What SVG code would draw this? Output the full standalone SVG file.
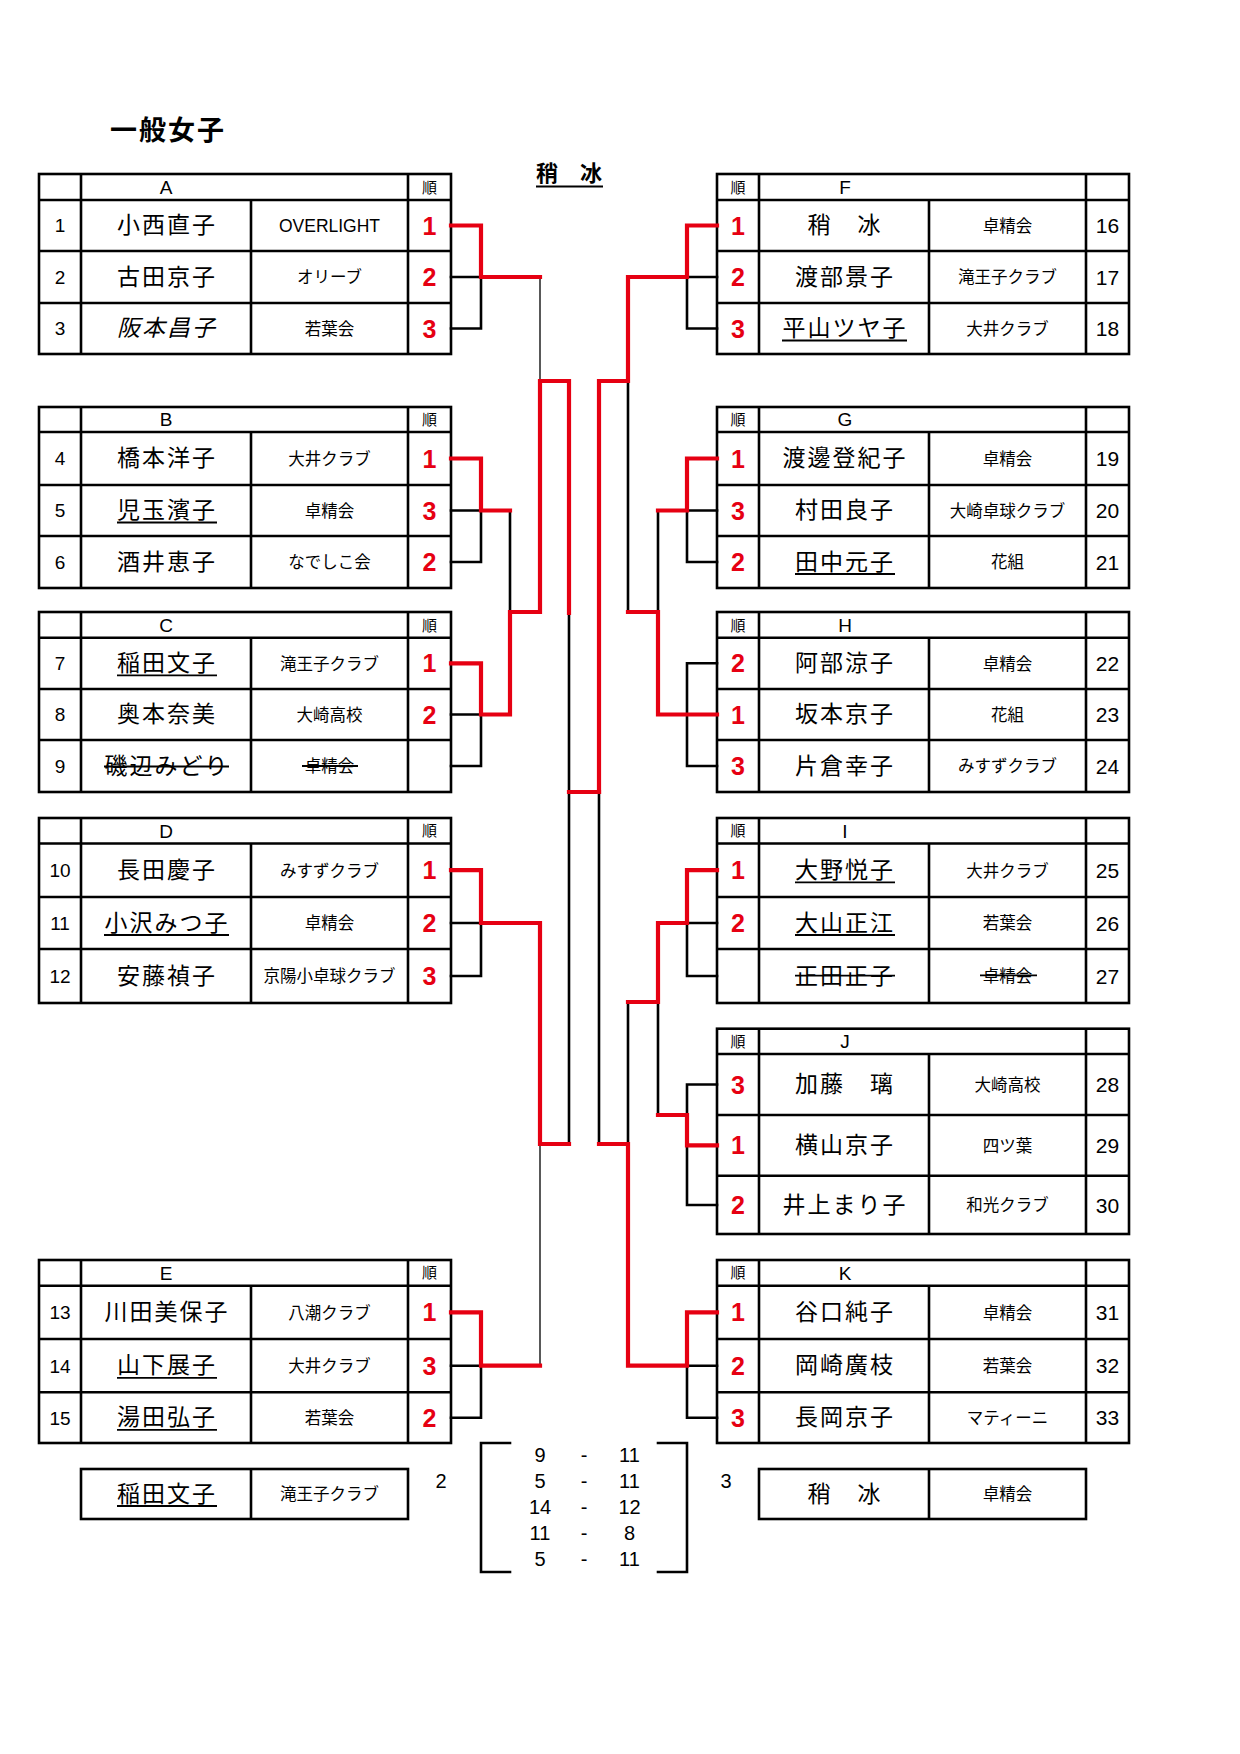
<svg xmlns="http://www.w3.org/2000/svg" width="1240" height="1754" viewBox="0 0 1240 1754">
<style>
.bg{fill:#fff}
.g{fill:none;stroke:#000;stroke-width:2.6}
.br{fill:none;stroke:#000;stroke-width:2.6;stroke-linejoin:miter;stroke-linecap:square}
.th{fill:none;stroke:#000;stroke-width:1.3}
.rd{fill:none;stroke:#e60012;stroke-width:4.2;stroke-linejoin:miter;stroke-linecap:square}
.ul{stroke:#000;stroke-width:1.8}
.nm{font-family:"Noto Sans CJK JP","Noto Sans CJK SC",sans-serif;font-size:23px;letter-spacing:2px;text-anchor:middle;fill:#000}
.it{font-style:italic}
.cl{font-family:"Noto Sans CJK JP","Noto Sans CJK SC",sans-serif;font-size:16.5px;text-anchor:middle;fill:#000}
.en{font-family:"Liberation Sans",Arial,sans-serif;font-size:17.5px;text-anchor:middle;fill:#000}
.no{font-family:"Liberation Sans",Arial,sans-serif;font-size:19px;text-anchor:middle;fill:#000}
.nr{font-family:"Liberation Sans",Arial,sans-serif;font-size:21px;text-anchor:middle;fill:#000}
.rk{font-family:"Liberation Sans Narrow","Liberation Sans",Arial,sans-serif;font-size:25px;font-weight:bold;text-anchor:middle;fill:#e60012}
.hd{font-family:"Liberation Sans",Arial,sans-serif;font-size:19px;text-anchor:middle;fill:#000}
.jn{font-family:"Noto Sans CJK JP","Noto Sans CJK SC",sans-serif;font-size:15px;text-anchor:middle;fill:#000}
.sc{font-family:"Liberation Sans",Arial,sans-serif;font-size:20px;text-anchor:middle;fill:#000}
.ttl{font-family:"Noto Sans CJK JP","Noto Sans CJK SC",sans-serif;font-size:27px;font-weight:bold;letter-spacing:2px;text-anchor:middle;fill:#000}
.ch{font-family:"Noto Sans CJK JP","Noto Sans CJK SC",sans-serif;font-size:22px;font-weight:bold;text-anchor:middle;fill:#000}
</style>
<rect class="bg" x="0" y="0" width="1240" height="1754"/>

<g id="title">
<text class="ttl" x="168" y="140">一般女子</text>
</g>
<g id="champion">
<text class="ch" x="569" y="181">稍　冰</text>
<line class="ul" x1="536" y1="186.5" x2="603" y2="186.5" style="stroke-width:2"/>
</g>

<!-- LEFT TABLES -->
<g id="group-A">
<rect class="g" x="39" y="174" width="412" height="180"/>
<path class="g" d="M39,200H451M39,251H451M39,303H451M81,174V354M408,174V354M251,200V354"/>
<text class="hd" x="166" y="194">A</text>
<text class="jn" x="429.5" y="192.5">順</text>
<text class="no" x="60" y="232">1</text>
<text class="nm" x="167" y="233">小西直子</text>
<text class="en" x="329.5" y="231.8">OVERLIGHT</text>
<text class="rk" x="429.5" y="234.5">1</text>
<text class="no" x="60" y="284">2</text>
<text class="nm" x="167" y="284.5">古田京子</text>
<text class="cl" x="329.5" y="283.3">オリーブ</text>
<text class="rk" x="429.5" y="286">2</text>
<text class="no" x="60" y="335">3</text>
<text class="nm it" x="167" y="336">阪本昌子</text>
<text class="cl" x="329.5" y="334.8">若葉会</text>
<text class="rk" x="429.5" y="337.5">3</text>
</g>

<g id="group-B">
<rect class="g" x="39" y="407" width="412" height="181"/>
<path class="g" d="M39,432H451M39,485H451M39,536H451M81,407V588M408,407V588M251,432V588"/>
<text class="hd" x="166" y="426.3">B</text>
<text class="jn" x="429.5" y="425">順</text>
<text class="no" x="60" y="465.3">4</text>
<text class="nm" x="167" y="466.2">橋本洋子</text>
<text class="cl" x="329.5" y="464.8">大井クラブ</text>
<text class="rk" x="429.5" y="467.5">1</text>
<text class="no" x="60" y="517.3">5</text>
<text class="nm" x="167" y="518.2">児玉濱子</text>
<line class="ul" x1="117" y1="522.5" x2="217" y2="522.5"/>
<text class="cl" x="329.5" y="516.8">卓精会</text>
<text class="rk" x="429.5" y="519.5">3</text>
<text class="no" x="60" y="568.8">6</text>
<text class="nm" x="167" y="569.7">酒井恵子</text>
<text class="cl" x="329.5" y="568.3">なでしこ会</text>
<text class="rk" x="429.5" y="571">2</text>
</g>

<g id="group-C">
<rect class="g" x="39" y="612" width="412" height="180"/>
<path class="g" d="M39,637.7H451M39,689H451M39,740H451M81,612V792M408,612V792M251,637.7V792"/>
<text class="hd" x="166" y="631.8">C</text>
<text class="jn" x="429.5" y="630.5">順</text>
<text class="no" x="60" y="670">7</text>
<text class="nm" x="167" y="671">稲田文子</text>
<line class="ul" x1="117" y1="675.3" x2="217" y2="675.3"/>
<text class="cl" x="329.5" y="669.6">滝王子クラブ</text>
<text class="rk" x="429.5" y="672.3">1</text>
<text class="no" x="60" y="721.3">8</text>
<text class="nm" x="167" y="722.2">奥本奈美</text>
<text class="cl" x="329.5" y="720.8">大崎高校</text>
<text class="rk" x="429.5" y="723.5">2</text>
<text class="no" x="60" y="772.8">9</text>
<text class="nm" x="167" y="773.7">磯辺みどり</text>
<line class="ul" x1="104" y1="766.5" x2="229" y2="766.5"/>
<text class="cl" x="329.5" y="772.3">卓精会</text>
<line class="ul" x1="302" y1="766" x2="358" y2="766"/>
</g>

<g id="group-D">
<rect class="g" x="39" y="818" width="412" height="185"/>
<path class="g" d="M39,843.5H451M39,897H451M39,949H451M81,818V1003M408,818V1003M251,843.5V1003"/>
<text class="hd" x="166" y="837.5">D</text>
<text class="jn" x="429.5" y="836.3">順</text>
<text class="no" x="60" y="877">10</text>
<text class="nm" x="167" y="878">長田慶子</text>
<text class="cl" x="329.5" y="876.5">みすずクラブ</text>
<text class="rk" x="429.5" y="879.2">1</text>
<text class="no" x="60" y="929.8">11</text>
<text class="nm" x="167" y="930.7">小沢みつ子</text>
<line class="ul" x1="104" y1="935" x2="229" y2="935"/>
<text class="cl" x="329.5" y="929.3">卓精会</text>
<text class="rk" x="429.5" y="932">2</text>
<text class="no" x="60" y="982.8">12</text>
<text class="nm" x="167" y="983.7">安藤禎子</text>
<text class="cl" x="329.5" y="982.3">京陽小卓球クラブ</text>
<text class="rk" x="429.5" y="985">3</text>
</g>

<g id="group-E">
<rect class="g" x="39" y="1260" width="412" height="183"/>
<path class="g" d="M39,1285.7H451M39,1339H451M39,1392.3H451M81,1260V1443M408,1260V1443M251,1285.7V1443"/>
<text class="hd" x="166" y="1279.6">E</text>
<text class="jn" x="429.5" y="1278.4">順</text>
<text class="no" x="60" y="1319">13</text>
<text class="nm" x="167" y="1320">川田美保子</text>
<text class="cl" x="329.5" y="1318.6">八潮クラブ</text>
<text class="rk" x="429.5" y="1321.3">1</text>
<text class="no" x="60" y="1372.5">14</text>
<text class="nm" x="167" y="1373.4">山下展子</text>
<line class="ul" x1="117" y1="1377.8" x2="217" y2="1377.8"/>
<text class="cl" x="329.5" y="1372">大井クラブ</text>
<text class="rk" x="429.5" y="1374.7">3</text>
<text class="no" x="60" y="1424.5">15</text>
<text class="nm" x="167" y="1425.4">湯田弘子</text>
<line class="ul" x1="117" y1="1429.8" x2="217" y2="1429.8"/>
<text class="cl" x="329.5" y="1424">若葉会</text>
<text class="rk" x="429.5" y="1426.7">2</text>
</g>

<!-- RIGHT TABLES -->
<g id="group-F">
<rect class="g" x="717" y="174" width="412" height="180"/>
<path class="g" d="M717,200H1129M717,251H1129M717,303H1129M759,174V354M1086,174V354M929,200V354"/>
<text class="jn" x="738" y="192.5">順</text>
<text class="hd" x="845" y="194">F</text>
<text class="rk" x="738" y="234.5">1</text>
<text class="nm" x="845" y="233">稍　冰</text>
<text class="cl" x="1007.5" y="231.8">卓精会</text>
<text class="nr" x="1107.5" y="233">16</text>
<text class="rk" x="738" y="286">2</text>
<text class="nm" x="845" y="284.5">渡部景子</text>
<text class="cl" x="1007.5" y="283.3">滝王子クラブ</text>
<text class="nr" x="1107.5" y="285">17</text>
<text class="rk" x="738" y="337.5">3</text>
<text class="nm" x="845" y="336">平山ツヤ子</text>
<line class="ul" x1="782" y1="340.5" x2="907" y2="340.5"/>
<text class="cl" x="1007.5" y="334.8">大井クラブ</text>
<text class="nr" x="1107.5" y="336">18</text>
</g>

<g id="group-G">
<rect class="g" x="717" y="407" width="412" height="181"/>
<path class="g" d="M717,432H1129M717,485H1129M717,536H1129M759,407V588M1086,407V588M929,432V588"/>
<text class="jn" x="738" y="425">順</text>
<text class="hd" x="845" y="426.3">G</text>
<text class="rk" x="738" y="467.5">1</text>
<text class="nm" x="845" y="466.2">渡邊登紀子</text>
<text class="cl" x="1007.5" y="464.8">卓精会</text>
<text class="nr" x="1107.5" y="466.2">19</text>
<text class="rk" x="738" y="519.5">3</text>
<text class="nm" x="845" y="518.2">村田良子</text>
<text class="cl" x="1007.5" y="516.8">大崎卓球クラブ</text>
<text class="nr" x="1107.5" y="518.2">20</text>
<text class="rk" x="738" y="571">2</text>
<text class="nm" x="845" y="569.7">田中元子</text>
<line class="ul" x1="795" y1="574" x2="895" y2="574"/>
<text class="cl" x="1007.5" y="568.3">花組</text>
<text class="nr" x="1107.5" y="569.7">21</text>
</g>

<g id="group-H">
<rect class="g" x="717" y="612" width="412" height="180"/>
<path class="g" d="M717,637.7H1129M717,689H1129M717,740H1129M759,612V792M1086,612V792M929,637.7V792"/>
<text class="jn" x="738" y="630.5">順</text>
<text class="hd" x="845" y="631.8">H</text>
<text class="rk" x="738" y="672.3">2</text>
<text class="nm" x="845" y="671">阿部涼子</text>
<text class="cl" x="1007.5" y="669.6">卓精会</text>
<text class="nr" x="1107.5" y="671">22</text>
<text class="rk" x="738" y="723.5">1</text>
<text class="nm" x="845" y="722.2">坂本京子</text>
<text class="cl" x="1007.5" y="720.8">花組</text>
<text class="nr" x="1107.5" y="722.2">23</text>
<text class="rk" x="738" y="775">3</text>
<text class="nm" x="845" y="773.7">片倉幸子</text>
<text class="cl" x="1007.5" y="772.3">みすずクラブ</text>
<text class="nr" x="1107.5" y="773.7">24</text>
</g>

<g id="group-I">
<rect class="g" x="717" y="818" width="412" height="185"/>
<path class="g" d="M717,843.5H1129M717,897H1129M717,949H1129M759,818V1003M1086,818V1003M929,843.5V1003"/>
<text class="jn" x="738" y="836.3">順</text>
<text class="hd" x="845" y="837.5">I</text>
<text class="rk" x="738" y="879.2">1</text>
<text class="nm" x="845" y="878">大野悦子</text>
<line class="ul" x1="795" y1="882.3" x2="895" y2="882.3"/>
<text class="cl" x="1007.5" y="876.5">大井クラブ</text>
<text class="nr" x="1107.5" y="878">25</text>
<text class="rk" x="738" y="932">2</text>
<text class="nm" x="845" y="930.7">大山正江</text>
<line class="ul" x1="795" y1="935" x2="895" y2="935"/>
<text class="cl" x="1007.5" y="929.3">若葉会</text>
<text class="nr" x="1107.5" y="930.7">26</text>
<text class="nm" x="845" y="983.7">正田正子</text>
<line class="ul" x1="795" y1="975.7" x2="895" y2="975.7"/>
<text class="cl" x="1007.5" y="982.3">卓精会</text>
<line class="ul" x1="980" y1="975.3" x2="1037" y2="975.3"/>
<text class="nr" x="1107.5" y="983.7">27</text>
</g>

<g id="group-J">
<rect class="g" x="717" y="1028.7" width="412" height="205.3"/>
<path class="g" d="M717,1054H1129M717,1115H1129M717,1175.7H1129M759,1028.7V1234M1086,1028.7V1234M929,1054V1234"/>
<text class="jn" x="738" y="1046.8">順</text>
<text class="hd" x="845" y="1048">J</text>
<text class="rk" x="738" y="1093.5">3</text>
<text class="nm" x="845" y="1092.2">加藤　璃</text>
<text class="cl" x="1007.5" y="1090.8">大崎高校</text>
<text class="nr" x="1107.5" y="1092.2">28</text>
<text class="rk" x="738" y="1154.3">1</text>
<text class="nm" x="845" y="1153">横山京子</text>
<text class="cl" x="1007.5" y="1151.6">四ツ葉</text>
<text class="nr" x="1107.5" y="1153">29</text>
<text class="rk" x="738" y="1214">2</text>
<text class="nm" x="845" y="1212.7">井上まり子</text>
<text class="cl" x="1007.5" y="1211.3">和光クラブ</text>
<text class="nr" x="1107.5" y="1212.7">30</text>
</g>

<g id="group-K">
<rect class="g" x="717" y="1260" width="412" height="183"/>
<path class="g" d="M717,1285.7H1129M717,1339H1129M717,1392.3H1129M759,1260V1443M1086,1260V1443M929,1285.7V1443"/>
<text class="jn" x="738" y="1278.4">順</text>
<text class="hd" x="845" y="1279.6">K</text>
<text class="rk" x="738" y="1321.3">1</text>
<text class="nm" x="845" y="1320">谷口純子</text>
<text class="cl" x="1007.5" y="1318.6">卓精会</text>
<text class="nr" x="1107.5" y="1320">31</text>
<text class="rk" x="738" y="1374.7">2</text>
<text class="nm" x="845" y="1373.4">岡崎廣枝</text>
<text class="cl" x="1007.5" y="1372">若葉会</text>
<text class="nr" x="1107.5" y="1373.4">32</text>
<text class="rk" x="738" y="1426.7">3</text>
<text class="nm" x="845" y="1425.4">長岡京子</text>
<text class="cl" x="1007.5" y="1424">マティーニ</text>
<text class="nr" x="1107.5" y="1425.4">33</text>
</g>

<!-- RESULT BOXES -->
<g id="second-place">
<rect class="g" x="81" y="1469" width="327" height="50"/>
<line class="g" x1="251" y1="1469" x2="251" y2="1519"/>
<text class="nm" x="167" y="1501.7">稲田文子</text>
<line class="ul" x1="117" y1="1506" x2="217" y2="1506"/>
<text class="cl" x="329.5" y="1500.3">滝王子クラブ</text>
<text class="sc" x="441" y="1488.2">2</text>
</g>
<g id="third-place">
<rect class="g" x="759" y="1469" width="327" height="50"/>
<line class="g" x1="929" y1="1469" x2="929" y2="1519"/>
<text class="nm" x="845" y="1501.7">稍　冰</text>
<text class="cl" x="1007.5" y="1500.3">卓精会</text>
<text class="sc" x="726" y="1488.2">3</text>
</g>
<g id="score">
<path class="br" d="M510,1443H481V1572H510M658,1443H687V1572H658"/>
<text class="sc" x="540" y="1462.2">9</text><text class="sc" x="584" y="1462.2">-</text><text class="sc" x="629.5" y="1462.2">11</text>
<text class="sc" x="540" y="1488">5</text><text class="sc" x="584" y="1488">-</text><text class="sc" x="629.5" y="1488">11</text>
<text class="sc" x="540" y="1514">14</text><text class="sc" x="584" y="1514">-</text><text class="sc" x="629.5" y="1514">12</text>
<text class="sc" x="540" y="1540">11</text><text class="sc" x="584" y="1540">-</text><text class="sc" x="629.5" y="1540">8</text>
<text class="sc" x="540" y="1565.5">5</text><text class="sc" x="584" y="1565.5">-</text><text class="sc" x="629.5" y="1565.5">11</text>
</g>

<!-- CONNECTORS -->
<g id="connectors">
<path class="br" d="M451,277H481M451,328.5H481V277M451,510.5H481M451,562H481V510.5M510,510.5V612M451,714.5H481M451,766H481V714.5M451,923H481M451,976H481V923M569,613V1144M451,1365.7H481M451,1417.7H481V1365.7"/>
<path class="th" d="M540,277V381M540,1144V1365.7"/>
<path class="br" d="M717,277H687M717,328.5H687V277M628,381V612M717,510.5H687M717,562H687V510.5M658,510.5V612M717,663.3H687V766H717M717,923H687M717,976H687V923M628,1002V1144M717,1084.5H687V1205H717M658,1002V1115M717,1365.7H687M717,1417.7H687V1365.7M599,792V1144"/>
<path class="rd" d="M451,225.5H481V277H540"/>
<path class="rd" d="M451,458.5H481V510.5H510"/>
<path class="rd" d="M451,663.3H481V714.5H510V612H540V381H569V613"/>
<path class="rd" d="M451,870.2H481V923H540V1144H569"/>
<path class="rd" d="M451,1312.3H481V1365.7H540"/>
<path class="rd" d="M569,792H599"/>
<path class="rd" d="M717,225.5H687V277H628V381H599V792"/>
<path class="rd" d="M717,458.5H687V510.5H658"/>
<path class="rd" d="M717,714.5H658V612H628"/>
<path class="rd" d="M717,870.2H687V923H658V1002H628"/>
<path class="rd" d="M717,1145.3H687V1115H658"/>
<path class="rd" d="M717,1312.3H687V1365.7H628V1144H599"/>
</g>
</svg>
